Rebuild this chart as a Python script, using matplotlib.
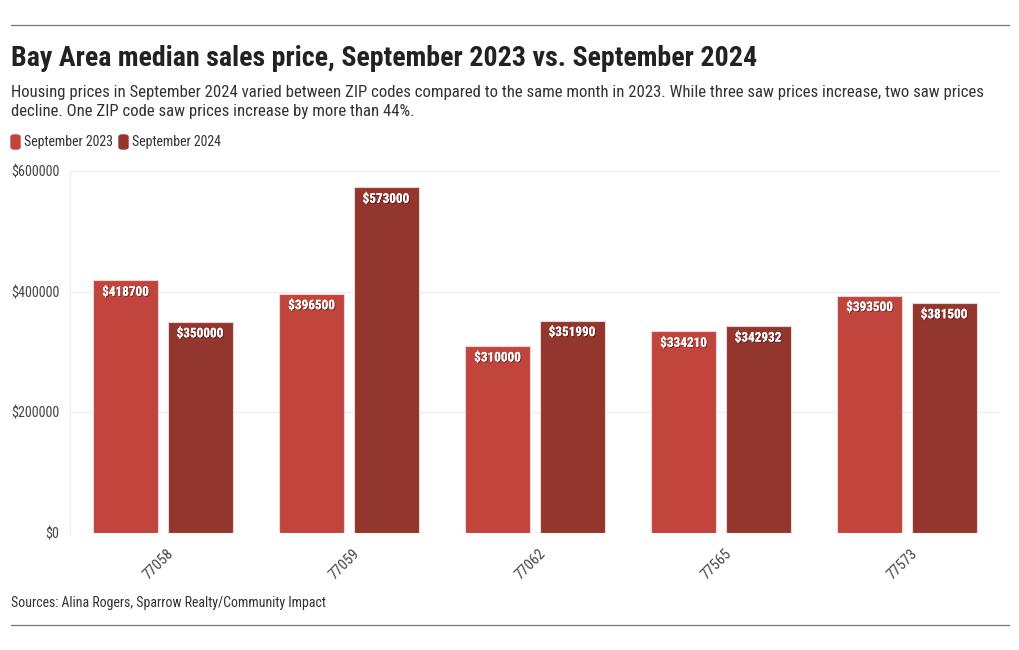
import matplotlib
matplotlib.use('Agg')
import matplotlib.pyplot as plt
import matplotlib.patheffects as pe
from matplotlib.patches import FancyBboxPatch
from matplotlib.lines import Line2D
import numpy as np

# data
zips = ['77058', '77059', '77062', '77565', '77573']
sep_2023 = [418700, 396500, 310000, 334210, 393500]
sep_2024 = [350000, 573000, 351990, 342932, 381500]
series_names = ['September 2023', 'September 2024']
yticks = [0, 200000, 400000, 600000]

c23 = '#c1443d'
c24 = '#93362e'

plt.rcParams['font.family'] = ['Roboto Condensed', 'Liberation Sans Narrow', 'Roboto', 'DejaVu Sans']

fig = plt.figure(figsize=(10.2, 6.5), dpi=100)
ax = fig.add_axes([70/1020, 1-533/650, 930/1020, 362/650])

x = np.arange(len(zips))
off = 0.2
w = 0.35
for vals, col, dx in [(sep_2023, c23, -off), (sep_2024, c24, off)]:
    bars = ax.bar(x + dx, vals, w, color=col, edgecolor='#e8d6d4', linewidth=0.8, zorder=3)
    for b, v in zip(bars, vals):
        t = ax.text(b.get_x() + b.get_width()/2, v - 9000, '$' + str(v),
                    ha='center', va='top', color='white', fontsize=9.5, fontweight='bold', zorder=4)
        t.set_path_effects([pe.withSimplePatchShadow(offset=(0.7, -0.7), shadow_rgbFace='#3a1512', alpha=0.6),
                            pe.Normal()])

ax.set_xlim(-0.5, len(zips) - 0.5)
ax.set_ylim(0, 600000)
ax.set_yticks(yticks)
ax.set_yticklabels(['$' + str(v) for v in yticks])
ax.set_xticks(x + 0.02)
ax.set_xticklabels(zips, rotation=45, ha='right', rotation_mode='anchor')
ax.grid(axis='y', color='#ececec', linewidth=0.8, zorder=0)
for s in ['top', 'right', 'bottom']:
    ax.spines[s].set_visible(False)
ax.spines['left'].set_color('#ececec')
ax.axhline(0, color='#ececec', linewidth=0.8, zorder=1)
ax.tick_params(axis='y', length=0, labelsize=10.2, labelcolor='#444444', pad=7.5)
ax.tick_params(axis='x', length=0, labelsize=10.5, labelcolor='#444444', pad=10)

# header / footer
fig.add_artist(Line2D([11/1020, 1009/1020], [1-25/650, 1-25/650], color='#777777', linewidth=0.9))
fig.add_artist(Line2D([11/1020, 1009/1020], [1-625/650, 1-625/650], color='#777777', linewidth=0.9))
fig.text(11/1020, 1-58/650, 'Bay Area median sales price, September 2023 vs. September 2024',
         fontsize=20.2, fontweight='bold', color='#222222', va='center')
fig.text(11/1020, 1-102/650,
         'Housing prices in September 2024 varied between ZIP codes compared to the same month in 2023. While three saw prices increase, two saw prices\n'
         'decline. One ZIP code saw prices increase by more than 44%.',
         fontsize=12.1, color='#333333', va='center', linespacing=1.3)

# legend
lx = 11
for name, col in zip(series_names, [c23, c24]):
    fig.add_artist(FancyBboxPatch((lx/1020, 1-149/650), 9/1020, 14/650,
                                  boxstyle='round,pad=0,rounding_size=0.003', color=col,
                                  transform=fig.transFigure))
    t = fig.text((lx + 13)/1020, 1-142/650, name, fontsize=10, color='#333333', va='center')
    fig.canvas.draw()
    bb = t.get_window_extent()
    lx = bb.x1 + 6

fig.text(11/1020, 1-603/650, 'Sources: Alina Rogers, Sparrow Realty/Community Impact',
         fontsize=10, color='#333333', va='center')

fig.savefig('out.png', dpi=100)
